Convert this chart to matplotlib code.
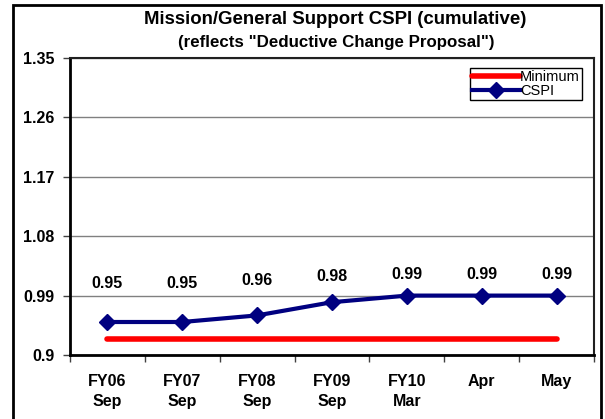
import matplotlib
matplotlib.use("Agg")
import matplotlib.pyplot as plt
from matplotlib.patches import Rectangle

plt.rcParams['font.family'] = ['Liberation Sans', 'DejaVu Sans']

categories = ["FY06\nSep", "FY07\nSep", "FY08\nSep", "FY09\nSep", "FY10\nMar", "Apr", "May"]
cspi = [0.95, 0.95, 0.96, 0.98, 0.99, 0.99, 0.99]
minimum = [0.925, 0.925, 0.925, 0.925, 0.925, 0.925, 0.925]
y_ticks = [0.9, 0.99, 1.08, 1.17, 1.26, 1.35]

fig = plt.figure(figsize=(6.05, 4.19), dpi=100)
ax = fig.add_axes([70 / 605, 1 - 355 / 419, 524 / 605, 297 / 419])

x = list(range(len(categories)))
ax.plot(x, minimum, color="#ff0000", lw=4, solid_capstyle="round", label="Minimum", zorder=3)
ax.plot(x, cspi, color="#000080", lw=3, marker="D", markersize=8.5, label="CSPI", zorder=4)

for xi, v in zip(x, cspi):
    ax.text(xi, 1.009 + 0.34 * (v - 0.95), f"{v:.2f}", ha="center", va="center",
            fontsize=11.5, fontweight="bold")

ax.set_xlim(-0.5, len(categories) - 0.5)
ax.set_ylim(0.9, 1.35)
ax.set_yticks(y_ticks)
ax.set_yticklabels([f"{t:g}" for t in y_ticks], fontsize=11.5, fontweight="bold")
ax.yaxis.grid(True, color="#808080", lw=1)
ax.set_axisbelow(True)

ax.set_xticks(x)
ax.set_xticklabels(categories, fontsize=11.5, fontweight="bold", linespacing=1.35)
ax.set_xticks([i - 0.5 for i in range(len(categories) + 1)], minor=True)
ax.tick_params(axis="x", which="major", length=0, pad=14)
ax.tick_params(axis="x", which="minor", length=5, width=1, direction="out", color="#404040")
ax.tick_params(axis="y", length=5, width=1, direction="out", pad=6, color="#404040")

for side in ["left", "bottom"]:
    ax.spines[side].set_linewidth(2)
    ax.spines[side].set_color("black")
for side in ["top", "right"]:
    ax.spines[side].set_linewidth(1.5)
    ax.spines[side].set_color("#202020")

leg = ax.legend(loc="upper right", bbox_to_anchor=(1 - 12 / 524, 1 - 10 / 297), fontsize=10.5,
                handlelength=3.3, handletextpad=0.0, borderpad=0.15,
                labelspacing=0.0, borderaxespad=0.0, fancybox=False,
                framealpha=1, edgecolor="black")
leg.get_frame().set_linewidth(1)

fig.text(335.5 / 605, 1 - 20 / 419, "Mission/General Support CSPI (cumulative)",
         ha="center", va="center", fontsize=13.4, fontweight="bold")
fig.text(336.5 / 605, 1 - 43 / 419, "(reflects \"Deductive Change Proposal\")",
         ha="center", va="center", fontsize=12.2, fontweight="bold")

fig.patches.append(Rectangle((13 / 605, -0.02), 588 / 605, 1.02 - 5 / 419,
                             transform=fig.transFigure, fill=False,
                             edgecolor="black", lw=2))

fig.savefig("out.png", dpi=100)
